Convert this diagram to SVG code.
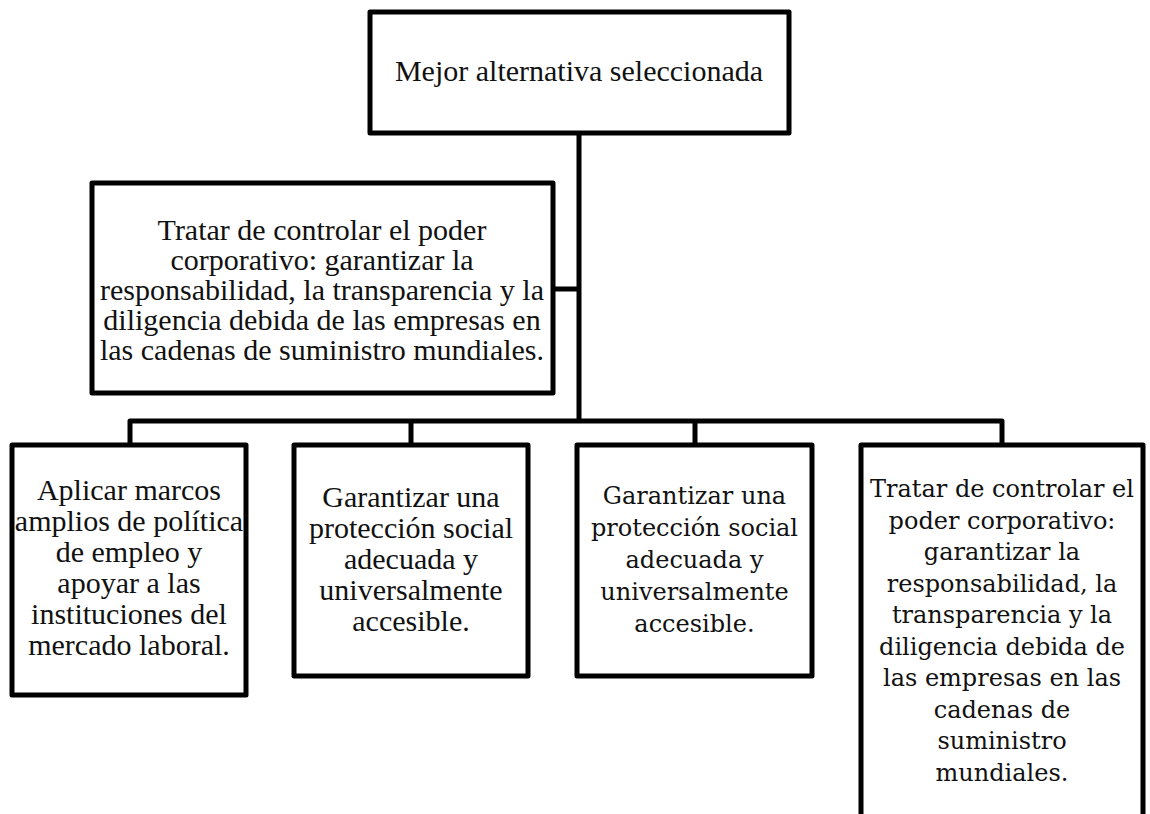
<svg xmlns="http://www.w3.org/2000/svg" width="1150" height="814" viewBox="0 0 1150 814">
<style>
.box{fill:#fff;stroke:#000;stroke-width:5;stroke-linejoin:round}
.con{fill:none;stroke:#000;stroke-width:5;stroke-linejoin:round}
.t{font-family:"Liberation Serif","Times New Roman",serif;font-size:30px;fill:#111;text-anchor:middle}
.c{font-family:"DejaVu Serif","Liberation Serif",serif;font-size:24px;fill:#111;text-anchor:middle}
</style>
<rect width="1150" height="814" fill="#fff"/>
<g id="connectors">
<path class="con" d="M579 133 V421"/>
<path class="con" d="M553 289 H579"/>
<path class="con" d="M130 445 V421 H1002 V445"/>
<path class="con" d="M411 421 V445"/>
<path class="con" d="M695 421 V445"/>
</g>
<g id="top">
<rect class="box" x="370" y="12" width="419" height="121"/>
<text class="t" x="579" y="81">Mejor alternativa seleccionada</text>
</g>
<g id="middle">
<rect class="box" x="92" y="183" width="461" height="210"/>
<text class="t" x="322" y="240">Tratar de controlar el poder</text>
<text class="t" x="322" y="270">corporativo: garantizar la</text>
<text class="t" x="322" y="300">responsabilidad, la transparencia y la</text>
<text class="t" x="322" y="330">diligencia debida de las empresas en</text>
<text class="t" x="322" y="360">las cadenas de suministro mundiales.</text>
</g>
<g id="box1">
<rect class="box" x="12" y="445" width="234" height="250"/>
<text class="t" x="129" y="500">Aplicar marcos</text>
<text class="t" x="129" y="531">amplios de política</text>
<text class="t" x="129" y="562">de empleo y</text>
<text class="t" x="129" y="593">apoyar a las</text>
<text class="t" x="129" y="624">instituciones del</text>
<text class="t" x="129" y="655">mercado laboral.</text>
</g>
<g id="box2">
<rect class="box" x="294" y="445" width="234" height="231"/>
<text class="t" x="411" y="507">Garantizar una</text>
<text class="t" x="411" y="538">protección social</text>
<text class="t" x="411" y="569">adecuada y</text>
<text class="t" x="411" y="600">universalmente</text>
<text class="t" x="411" y="631">accesible.</text>
</g>
<g id="box3">
<rect class="box" x="577" y="445" width="235" height="231"/>
<text class="c" x="694.5" y="504">Garantizar una</text>
<text class="c" x="694.5" y="536">protección social</text>
<text class="c" x="694.5" y="568">adecuada y</text>
<text class="c" x="694.5" y="600">universalmente</text>
<text class="c" x="694.5" y="632">accesible.</text>
</g>
<g id="box4">
<rect class="box" x="861" y="445" width="282" height="390"/>
<text class="c" x="1002" y="497">Tratar de controlar el</text>
<text class="c" x="1002" y="528.5">poder corporativo:</text>
<text class="c" x="1002" y="560">garantizar la</text>
<text class="c" x="1002" y="591.5">responsabilidad, la</text>
<text class="c" x="1002" y="623">transparencia y la</text>
<text class="c" x="1002" y="654.5">diligencia debida de</text>
<text class="c" x="1002" y="686">las empresas en las</text>
<text class="c" x="1002" y="717.5">cadenas de</text>
<text class="c" x="1002" y="749">suministro</text>
<text class="c" x="1002" y="780.5">mundiales.</text>
</g>
</svg>
